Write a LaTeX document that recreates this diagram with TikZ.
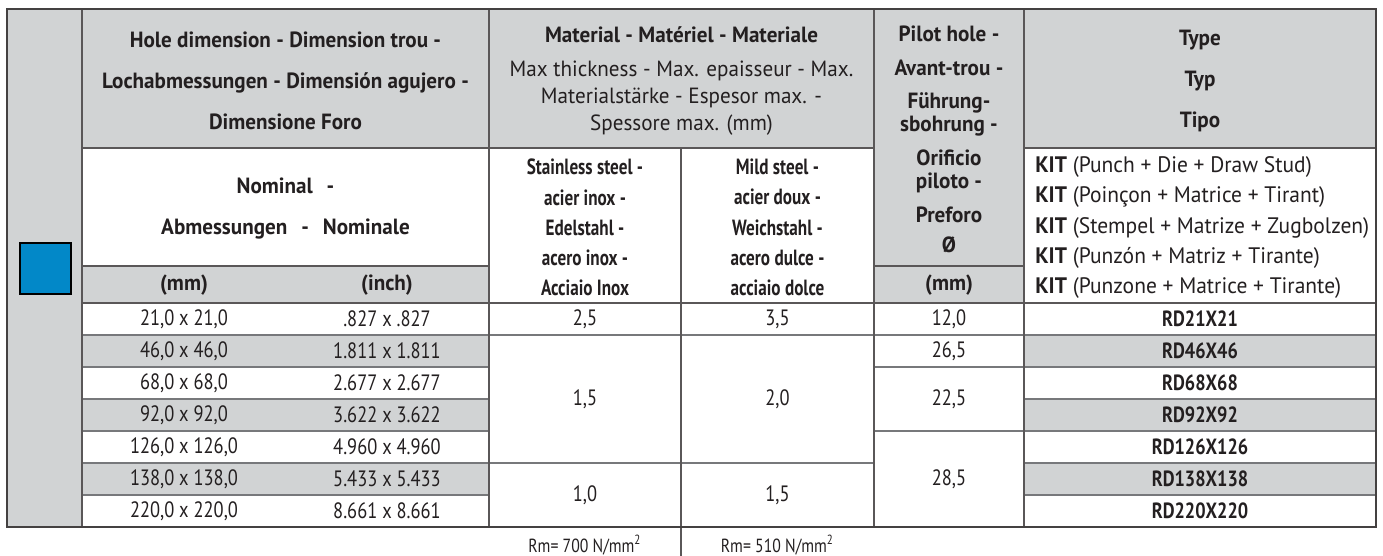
\documentclass[tikz,border=0pt]{standalone}
\usepackage{fontspec}
\setmainfont{PT Sans}
\newfontfamily\widefont{PT Sans}[FakeStretch=0.96]
\newfontfamily\narrowfont{PT Sans}[FakeStretch=0.78]
\newfontfamily\datafont{PT Sans}[FakeStretch=0.83]
\definecolor{cellgray}{HTML}{D1D3D4}
\definecolor{keyblue}{HTML}{0288C8}
\definecolor{rulegray}{HTML}{77787B}
\definecolor{ink}{HTML}{231F20}

\begin{document}
\begin{tikzpicture}[x=0.5pt,y=-0.5pt,
  every node/.style={text=ink,inner sep=0pt},
  headtext/.style={font=\widefont\bfseries\fontsize{11}{20.5}\selectfont,align=center},
  mattext/.style={font=\widefont\fontsize{11}{13.5}\selectfont,align=center},
  pilottext/.style={font=\widefont\bfseries\fontsize{11}{11.5}\selectfont,align=center},
  subtext/.style={font=\narrowfont\bfseries\fontsize{11}{15.1}\selectfont,align=center},
  kittext/.style={font=\widefont\fontsize{11.2}{15.1}\selectfont,align=left,anchor=west},
  celltext/.style={font=\datafont\fontsize{11.1}{13}\selectfont},
  codetext/.style={font=\datafont\bfseries\fontsize{11}{13}\selectfont},
  rmtext/.style={font=\datafont\fontsize{9.5}{10}\selectfont},
  outerline/.style={draw=ink!85,line width=1pt},
  headline/.style={draw=ink!75,line width=0.9pt},
  gridline/.style={draw=rulegray,line width=0.75pt}]
  \useasboundingbox (0,0) rectangle (1383,556);

  \fill[cellgray] (7,9) rectangle (1376,148);
  \fill[cellgray] (7,148) rectangle (82,527);
  \fill[cellgray] (82,266) rectangle (489,303);
  \fill[cellgray] (874,148) rectangle (1024,303);
  \fill[cellgray] (82,335) rectangle (489,367);
  \fill[cellgray] (82,399) rectangle (489,431);
  \fill[cellgray] (82,463) rectangle (489,495);
  \fill[cellgray] (1024,335) rectangle (1376,367);
  \fill[cellgray] (1024,399) rectangle (1376,431);
  \fill[cellgray] (1024,463) rectangle (1376,495);

  \draw[gridline] (82,335) -- (1376,335);
  \draw[gridline] (82,367) -- (489,367) (874,367) -- (1376,367);
  \draw[gridline] (82,399) -- (489,399) (1024,399) -- (1376,399);
  \draw[gridline] (82,431) -- (489,431) (874,431) -- (1376,431);
  \draw[gridline] (82,463) -- (874,463) (1024,463) -- (1376,463);
  \draw[gridline] (82,495) -- (489,495) (1024,495) -- (1376,495);
  \draw[headline] (82,148) -- (874,148) (1024,148) -- (1376,148);
  \draw[headline] (82,266) -- (489,266) (874,266) -- (1024,266);
  \draw[headline] (82,303) -- (1376,303);
  \draw[headline] (82,9) -- (82,527);
  \draw[headline] (489,9) -- (489,527);
  \draw[headline] (681,148) -- (681,556);
  \draw[headline] (874,9) -- (874,527);
  \draw[headline] (1024,9) -- (1024,527);
  \draw[outerline] (7,9) rectangle (1376,527);

  \draw[fill=keyblue,draw=black,line width=1.2pt] (20,243) rectangle (71,294);

  \node[headtext] (hole) at (285.5,81) {Hole dimension - Dimension trou -\\Lochabmessungen - Dimensión agujero -\\Dimensione Foro};
  \node[headtext] (nominal) at (285.5,208.5) {Nominal\hspace{7pt}-\\Abmessungen\hspace{7pt}-\hspace{7pt}Nominale};
  \node[headtext] (mmhead) at (184,285) {(mm)};
  \node[headtext] (inhead) at (387,285) {(inch)};
  \node[mattext] (material) at (681.5,81) {\textbf{Material - Matériel - Materiale}\\[3.5pt]Max thickness - Max. epaisseur - Max.\\Materialstärke - Espesor max. -\\Spessore max. (mm)};
  \node[subtext] (stainless) at (585,227.5) {Stainless steel -\\acier inox -\\Edelstahl -\\acero inox -\\Acciaio Inox};
  \node[subtext] (mild) at (777.5,227.5) {Mild steel -\\acier doux -\\Weichstahl -\\acero dulce -\\acciaio dolce};
  \node[pilottext] (pilot) at (949,139.5) {Pilot hole -\\[5.5pt]Avant-trou -\\[5pt]Führung-\\sbohrung -\\[5.5pt]Orificio\\piloto -\\[5.5pt]Preforo\\[3.5pt]Ø};
  \node[headtext] (pilotmm) at (949,285) {(mm)};
  \node[headtext] (type) at (1200,81) {Type\\Typ\\Tipo};
  \node[kittext] (kit) at (1035,227.5) {\textbf{KIT} (Punch + Die + Draw Stud)\\\textbf{KIT} (Poinçon + Matrice + Tirant)\\\textbf{KIT} (Stempel + Matrize + Zugbolzen)\\\textbf{KIT} (Punzón + Matriz + Tirante)\\\textbf{KIT} (Punzone + Matrice + Tirante)};

  \node[celltext] (mm1) at (184,319) {21,0 x 21,0};
  \node[celltext] (mm2) at (184,351) {46,0 x 46,0};
  \node[celltext] (mm3) at (184,383) {68,0 x 68,0};
  \node[celltext] (mm4) at (184,415) {92,0 x 92,0};
  \node[celltext] (mm5) at (184,447) {126,0 x 126,0};
  \node[celltext] (mm6) at (184,479) {138,0 x 138,0};
  \node[celltext] (mm7) at (184,511) {220,0 x 220,0};
  \node[celltext] (in1) at (387,319) {.827 x .827};
  \node[celltext] (in2) at (387,351) {1.811 x 1.811};
  \node[celltext] (in3) at (387,383) {2.677 x 2.677};
  \node[celltext] (in4) at (387,415) {3.622 x 3.622};
  \node[celltext] (in5) at (387,447) {4.960 x 4.960};
  \node[celltext] (in6) at (387,479) {5.433 x 5.433};
  \node[celltext] (in7) at (387,511) {8.661 x 8.661};
  \node[celltext] (ss1) at (585,319) {2,5};
  \node[celltext] (ss2) at (585,399) {1,5};
  \node[celltext] (ss3) at (585,495) {1,0};
  \node[celltext] (ms1) at (777.5,319) {3,5};
  \node[celltext] (ms2) at (777.5,399) {2,0};
  \node[celltext] (ms3) at (777.5,495) {1,5};
  \node[celltext] (ph1) at (949,319) {12,0};
  \node[celltext] (ph2) at (949,351) {26,5};
  \node[celltext] (ph3) at (949,399) {22,5};
  \node[celltext] (ph4) at (949,479) {28,5};
  \node[codetext] (rd1) at (1200,319) {RD21X21};
  \node[codetext] (rd2) at (1200,351) {RD46X46};
  \node[codetext] (rd3) at (1200,383) {RD68X68};
  \node[codetext] (rd4) at (1200,415) {RD92X92};
  \node[codetext] (rd5) at (1200,447) {RD126X126};
  \node[codetext] (rd6) at (1200,479) {RD138X138};
  \node[codetext] (rd7) at (1200,511) {RD220X220};

  \node[rmtext] (rmss) at (585,545) {Rm= 700 N/mm\textsuperscript{2}};
  \node[rmtext] (rmms) at (777.5,545) {Rm= 510 N/mm\textsuperscript{2}};
\end{tikzpicture}
\end{document}
